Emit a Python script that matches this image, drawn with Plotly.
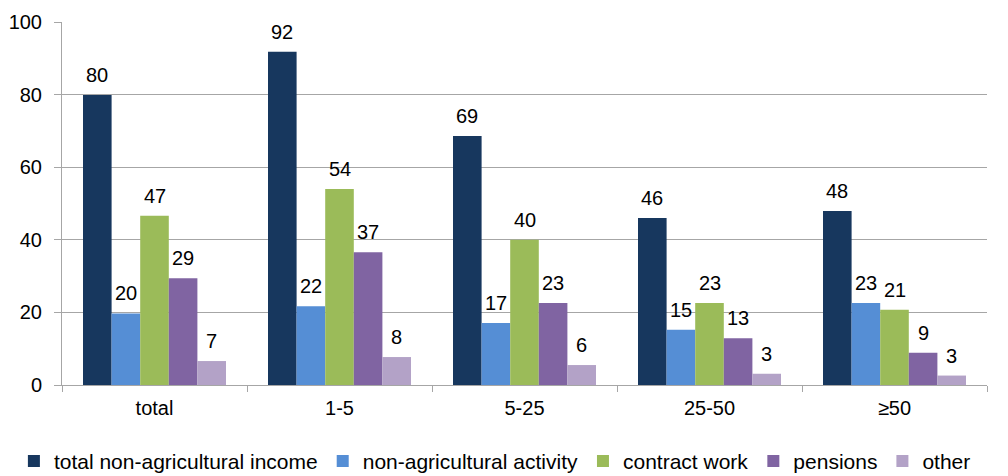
import plotly.graph_objects as go

categories = ["total", "1-5", "5-25", "25-50", "≥50"]
series_names = ["total non-agricultural income", "non-agricultural activity",
                "contract work", "pensions", "other"]
total_nonagri = [79.9, 91.8, 68.6, 46.0, 47.9]
nonagri_activity = [19.7, 21.7, 17.1, 15.2, 22.6]
contract_work = [46.6, 54.0, 40.0, 22.6, 20.7]
pensions = [29.4, 36.6, 22.6, 12.9, 8.9]
other = [6.6, 7.7, 5.5, 3.1, 2.6]
colors = ["#17375E", "#558ED5", "#9BBB59", "#8064A2", "#B3A2C7"]

values = [total_nonagri, nonagri_activity, contract_work, pensions, other]

BARGAP = 0.227
FONT = "Liberation Sans, Arial, sans-serif"

fig = go.Figure()
for name, vals, col in zip(series_names, values, colors):
    fig.add_trace(go.Bar(
        x=categories, y=vals, name=name, marker_color=col,
        marker_line_width=0,
    ))

# value labels above each bar (positioned from the bar geometry)
n = len(values)
bw = (1 - BARGAP) / n
annotations = []
for i, vals in enumerate(values):
    for j, v in enumerate(vals):
        annotations.append(dict(
            x=j + (i - (n - 1) / 2) * bw, y=v, xref="x", yref="y",
            text=f"{v:.0f}", showarrow=False, yanchor="bottom",
            xanchor="center", yshift=7,
            font=dict(family=FONT, size=20, color="#000000"),
        ))

fig.update_layout(
    width=1008, height=476,
    margin=dict(l=62, r=21, t=22, b=91, autoexpand=False),
    paper_bgcolor="white", plot_bgcolor="white",
    barmode="group", bargap=BARGAP, bargroupgap=0,
    font=dict(family=FONT, size=20, color="#000000"),
    showlegend=True,
    legend=dict(orientation="h", x=-0.052, xanchor="left", xref="paper",
                y=-0.21, yanchor="middle", yref="paper",
                font=dict(size=21), itemwidth=30, traceorder="normal"),
    annotations=annotations,
)
fig.update_yaxes(range=[0, 100], dtick=20, showgrid=True, gridcolor="#A6A6A6",
                 gridwidth=1, showline=True, linecolor="#A6A6A6",
                 ticks="outside", ticklen=7, tickcolor="#A6A6A6",
                 ticklabelstandoff=8,
                 tickfont=dict(size=20), zeroline=False)
fig.update_xaxes(showline=True, linecolor="#A6A6A6", ticks="outside",
                 tickson="boundaries", ticklen=6, tickcolor="#A6A6A6",
                 ticklabelstandoff=5,
                 tickfont=dict(size=20))

fig.write_html("out.html")
